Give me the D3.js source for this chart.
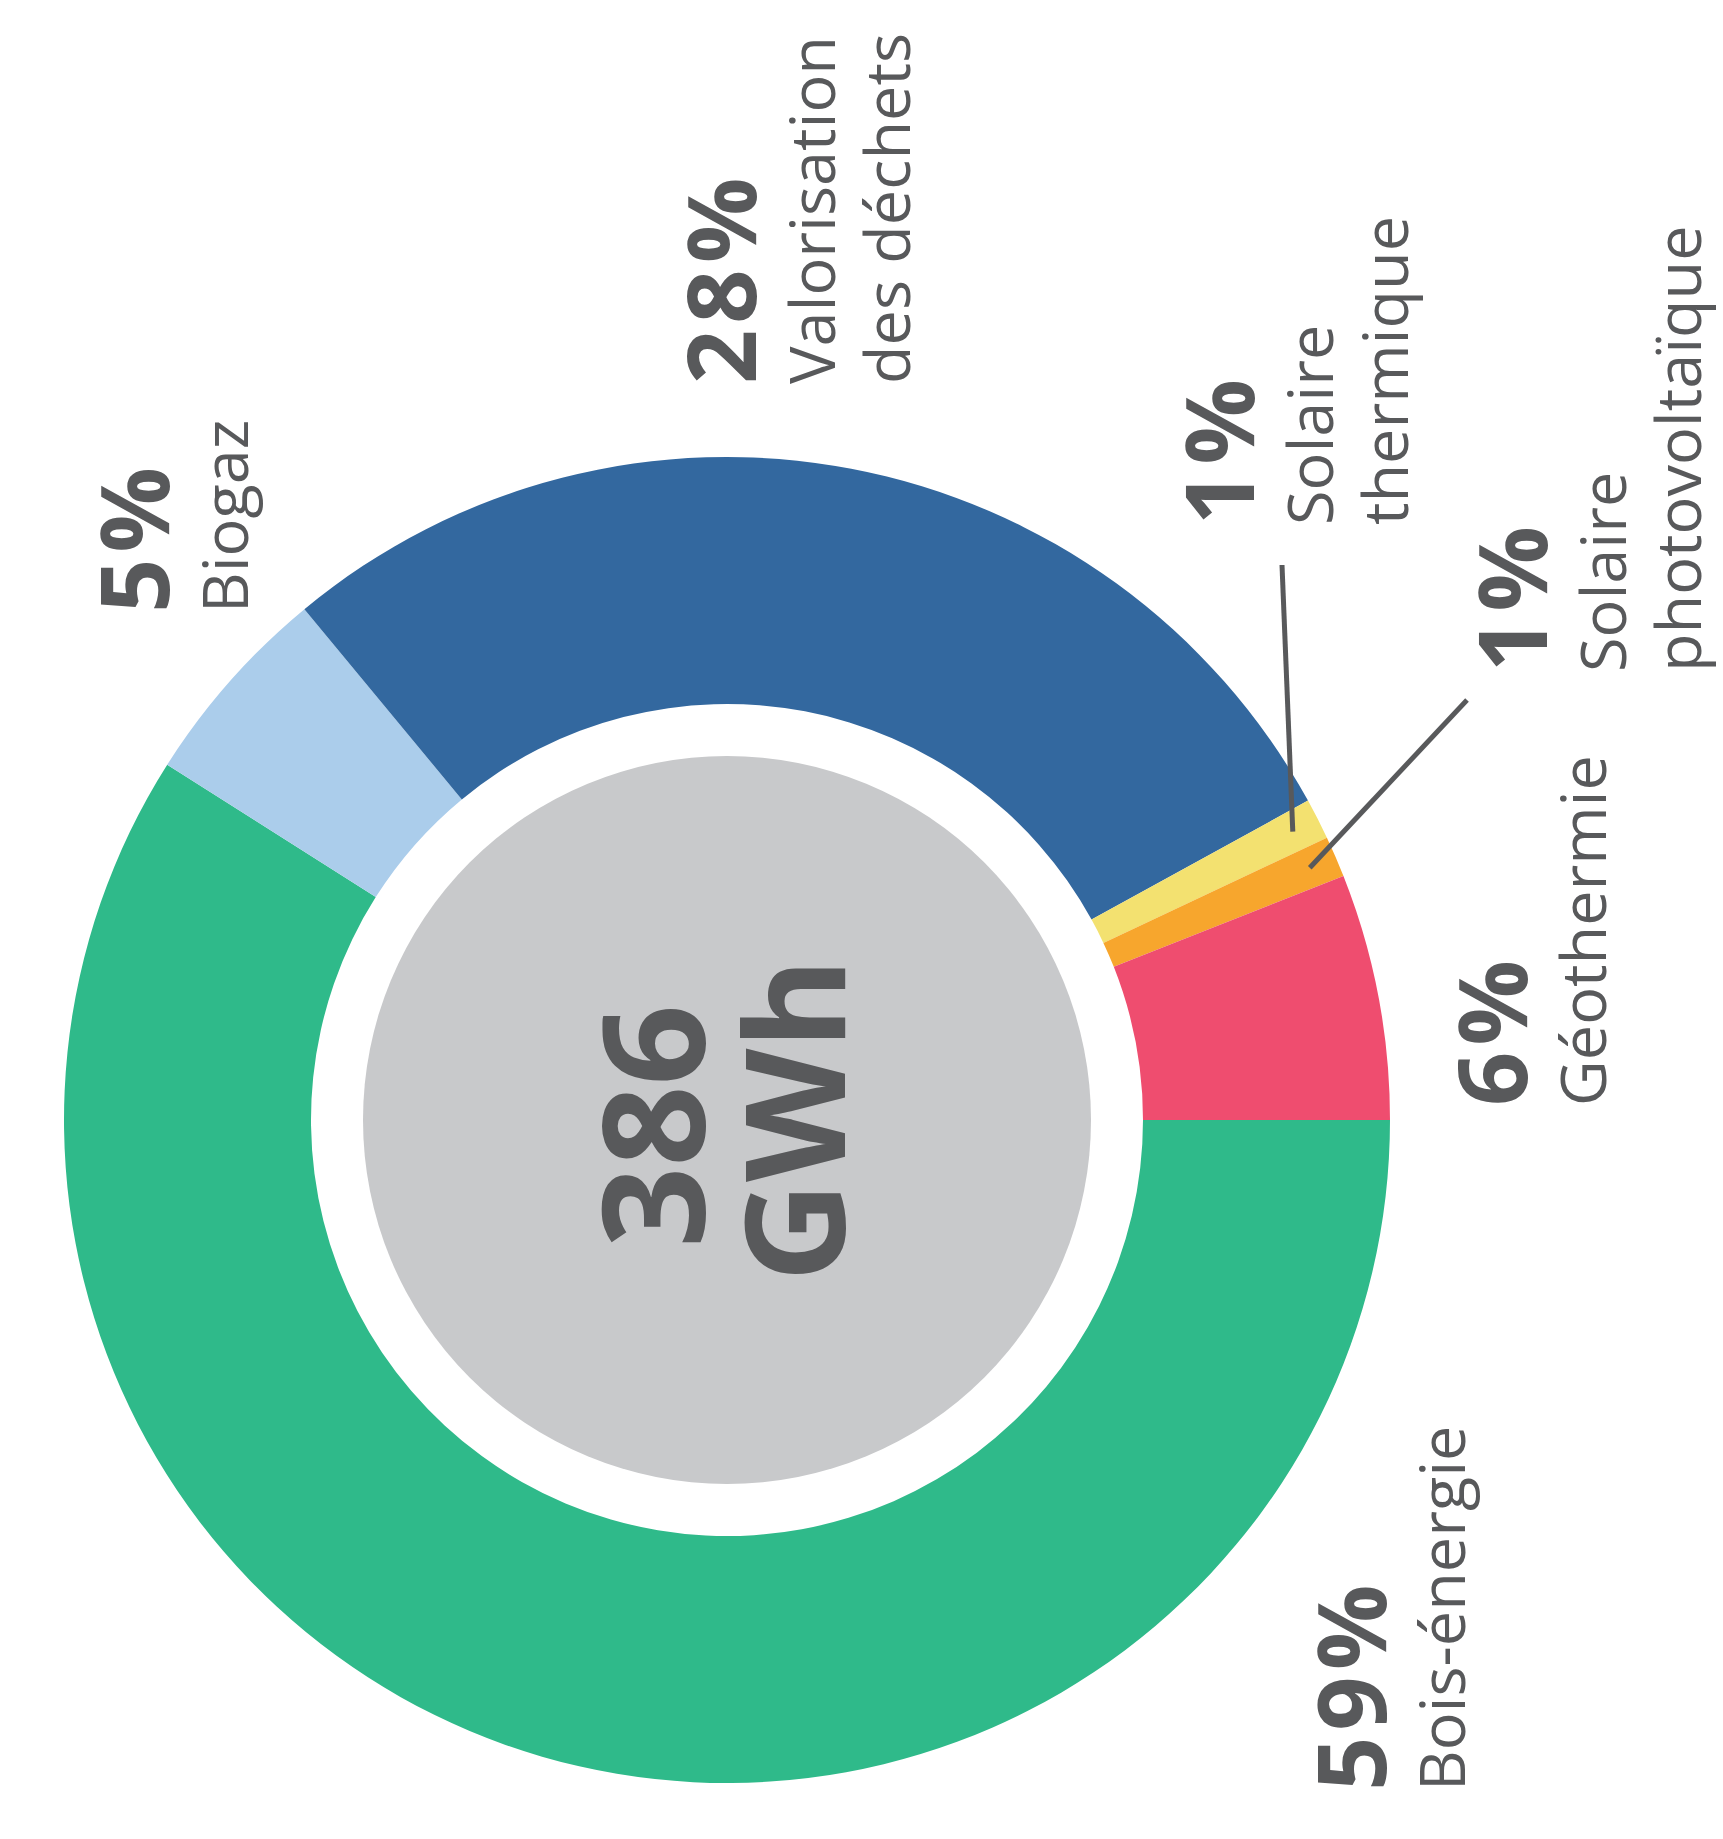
<!DOCTYPE html>
<html>
<head>
<meta charset="utf-8">
<script src="https://cdn.jsdelivr.net/npm/d3@7"></script>
<style>
  html, body { margin: 0; padding: 0; background: #fff; }
  text { font-family: "Open Sans", sans-serif; fill: #58595b; }
</style>
</head>
<body>
<div id="chart-container"></div>
<script>
// data
const categories = ["Bois-énergie", "Biogaz", "Valorisation des déchets", "Solaire thermique", "Solaire photovoltaïque", "Géothermie"];
const shares = [59, 5, 28, 1, 1, 6];
const labelLines = [
  ["Bois-énergie"],
  ["Biogaz"],
  ["Valorisation", "des déchets"],
  ["Solaire", "thermique"],
  ["Solaire", "photovoltaïque"],
  ["Géothermie"]
];
const totalLabel = ["386", "GWh"];

const colors = ["#2fba8a", "#abcdeb", "#33689f", "#f3e170", "#f7a62d", "#ef4d6f"];

const W = 1723, H = 1839;
const cx = 727, cy = 1120;
const rOuter = 663, rInner = 416, rCore = 364;

// label anchors (baseline of the % line, start of text), rotated text
const labelPos = {
  "Bois-énergie": [1386, 1791],
  "Biogaz": [169, 613],
  "Valorisation des déchets": [756, 384],
  "Solaire thermique": [1254, 525],
  "Solaire photovoltaïque": [1547, 672],
  "Géothermie": [1527, 1106]
};
// leader line ends, relative to label anchor
const leaders = {
  "Solaire thermique": [28, 40],
  "Solaire photovoltaïque": [-80, 28]
};

const data = categories.map((c, i) => ({ name: c, value: shares[i], lines: labelLines[i] }));

const color = d3.scaleOrdinal().domain(categories).range(colors);

const svg = d3.select("#chart-container")
  .append("svg")
  .attr("width", W)
  .attr("height", H);

const g = svg.append("g").attr("transform", `translate(${cx},${cy})`);

const pie = d3.pie()
  .sort(null)
  .value(d => d.value)
  .startAngle(Math.PI / 2)
  .endAngle(Math.PI / 2 + 2 * Math.PI);

const arc = d3.arc().innerRadius(rInner).outerRadius(rOuter);
const arcs = pie(data);

g.selectAll("path")
  .data(arcs)
  .join("path")
  .attr("d", arc)
  .attr("fill", d => color(d.data.name));

g.append("circle")
  .attr("r", rCore)
  .attr("fill", "#c8c9cb");

// center total
const center = g.append("g").attr("transform", "rotate(-90)");
center.append("text")
  .attr("text-anchor", "middle")
  .attr("y", -22)
  .attr("x", -6)
  .style("font-weight", 700)
  .style("font-size", "142px")
  .text(totalLabel[0]);
center.append("text")
  .attr("text-anchor", "middle")
  .attr("y", 118)
  .style("font-weight", 700)
  .style("font-size", "138px")
  .text(totalLabel[1]);

// leader lines
const leaderArc = d3.arc().innerRadius(635).outerRadius(635);
arcs.filter(d => leaders[d.data.name]).forEach(d => {
  const [ix, iy] = leaderArc.centroid(d);
  const [lx, ly] = labelPos[d.data.name];
  const [ox, oy] = leaders[d.data.name];
  svg.append("line")
    .attr("x1", cx + ix).attr("y1", cy + iy)
    .attr("x2", lx + ox).attr("y2", ly + oy)
    .attr("stroke", "#58595b")
    .attr("stroke-width", 5);
});

// labels
const labels = svg.selectAll("g.label")
  .data(arcs)
  .join("g")
  .attr("class", "label")
  .attr("transform", d => {
    const [x, y] = labelPos[d.data.name];
    return `translate(${x},${y}) rotate(-90)`;
  });

labels.append("text")
  .style("font-weight", 700)
  .style("font-size", "95px")
  .style("letter-spacing", "6px")
  .text(d => d.data.value + "%");

labels.each(function(d) {
  d3.select(this).selectAll("text.name")
    .data(d.data.lines)
    .join("text")
    .attr("class", "name")
    .attr("y", (t, i) => 79 + i * 75)
    .style("font-size", "63px")
    .text(t => t);
});
</script>
</body>
</html>
